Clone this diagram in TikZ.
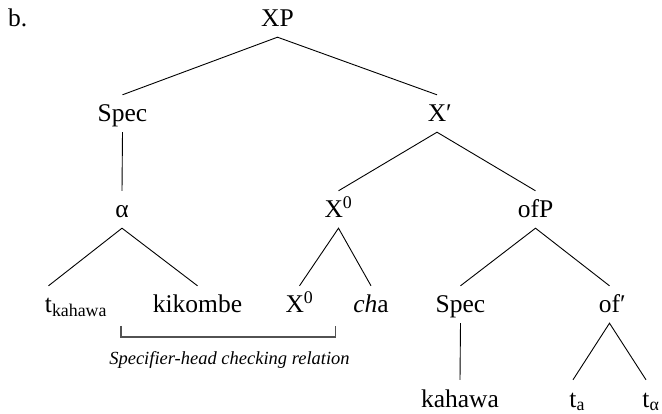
\documentclass[tikz,border=0pt]{standalone}
\usepackage{fontspec}
\setmainfont{Liberation Serif}
\begin{document}
\begin{tikzpicture}[x=1pt,y=-1pt,
  lab/.style={inner xsep=0pt, inner ysep=10pt, text height=17pt, text depth=0pt,
              anchor=base, font=\fontsize{25.5}{30}\selectfont},
  branch/.style={draw=black, line width=0.9pt},
  bracketline/.style={draw=black!68, line width=1.1pt},
  note/.style={inner sep=0pt, anchor=base, font=\fontsize{18.5}{22}\selectfont\itshape}]
\useasboundingbox (0,0) rectangle (662,414);
% labels
\node[lab, anchor=base west] (b) at (8,27) {b.};
\node[lab] (XP) at (277.5,27) {XP};
\node[lab] (Spec1) at (122.5,122) {Spec};
\node[lab] (Xbar) at (437,122) {X\rlap{′}};
\node[lab] (alpha) at (122,218) {α};
\node[lab] (X0a) at (338.5,218) {X\textsuperscript{0}};
\node[lab] (ofP) at (535.5,218) {ofP};
\node[lab] (tk) at (48.5,313) {t\rlap{\textsubscript{kahawa}}};
\node[lab] (kik) at (197.5,313) {kikombe};
\node[lab] (X0b) at (299.5,313) {X\textsuperscript{0}};
\node[lab] (cha) at (371,313) {\textit{ch}a};
\node[lab] (Spec2) at (460.5,313) {Spec};
\node[lab] (ofbar) at (609.5,313) {of\rlap{′}};
\node[lab] (kah) at (460,407) {kahawa};
\node[lab] (ta) at (573,407) {t\rlap{\textsubscript{a}}};
\node[lab] (talpha) at (646,407) {t\rlap{\textsubscript{α}}};
% branches
\draw[branch] (Spec1.north) -- (XP.south) -- (Xbar.north);
\draw[branch] (Spec1.south) -- (alpha.north);
\draw[branch] (X0a.north) -- (Xbar.south) -- (ofP.north);
\draw[branch] (tk.north) -- (alpha.south) -- (kik.north);
\draw[branch] (X0b.north) -- (X0a.south) -- (cha.north);
\draw[branch] (Spec2.north) -- (ofP.south) -- (ofbar.north);
\draw[branch] (Spec2.south) -- (kah.north);
\draw[branch] (ta.north) -- (ofbar.south) -- (talpha.north);
% checking bracket
\coordinate (brL) at (121,326);
\coordinate (brR) at (335.5,326);
\draw[bracketline] (brL) -- ++(0,11) -| (brR);
\node[note] (rel) at (229.5,365) {Specifier-head checking relation};
\end{tikzpicture}
\end{document}
